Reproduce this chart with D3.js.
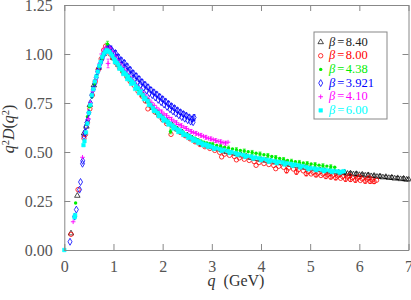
<!DOCTYPE html>
<html><head><meta charset="utf-8">
<script src="https://cdn.jsdelivr.net/npm/d3@7"></script>
<style>body{margin:0;background:#fff}svg{display:block}</style>
</head><body>
<svg id="c" width="411" height="300"></svg>
<script>
const xTicks=[0,1,2,3,4,5,6,7];
const yTicks=[0,0.25,0.5,0.75,1.0,1.25];
const betaLabels=["8.40","8.00","4.38","3.921","4.10","6.00"];

const beta840=[[0.136,0.085],[0.265,0.277],[0.40,0.595],[0.45,0.63],[0.52,0.74],[0.60,0.84],[0.70,0.93],[0.80,1.0],[0.90,1.02],[1.0,0.98],[1.1,0.945],[1.2,0.915],[1.3,0.885],[1.4,0.855],[1.5,0.825],[1.6,0.79],[1.7,0.76],[1.8,0.725],[1.9,0.70],[2.0,0.675],[2.1,0.655],[2.2,0.635],[2.3,0.615],[2.4,0.60],[2.5,0.585],[2.6,0.57],[2.7,0.555],[2.8,0.54],[2.9,0.533],[3.0,0.525],[3.1,0.517],[3.2,0.51],[3.3,0.50],[3.4,0.496],[3.5,0.49],[3.6,0.483],[3.7,0.477],[3.8,0.47],[3.9,0.465],[4.0,0.46],[4.1,0.456],[4.2,0.452],[4.3,0.447],[4.4,0.443],[4.5,0.44],[4.6,0.435],[4.7,0.43],[4.8,0.425],[4.9,0.42],[5.0,0.416],[5.1,0.412],[5.2,0.408],[5.3,0.404],[5.4,0.40],[5.5,0.397],[5.58,0.395,0.008],[5.64,0.392],[5.70,0.396,0.01],[5.76,0.389],[5.82,0.391,0.008],[5.88,0.386],[5.94,0.388,0.01],[6.0,0.383],[6.06,0.385,0.008],[6.12,0.380],[6.18,0.382,0.01],[6.24,0.377],[6.30,0.379,0.008],[6.36,0.374],[6.42,0.376,0.01],[6.48,0.371],[6.54,0.373,0.008],[6.60,0.368],[6.66,0.370,0.01],[6.72,0.365],[6.78,0.367,0.008],[6.84,0.362],[6.90,0.364,0.01],[6.96,0.359],[7.0,0.361,0.008]];

const beta800=[[0.136,0.08],[0.28,0.308],[0.40,0.57],[0.43,0.59],[0.47,0.65],[0.52,0.72],[0.57,0.79],[0.63,0.86],[0.69,0.92],[0.75,0.975],[0.80,1.02],[0.84,1.04],[0.88,1.03],[0.93,1.0],[0.98,0.98],[1.05,0.955],[1.12,0.93],[1.20,0.905],[1.27,0.885],[1.34,0.86],[1.42,0.84],[1.50,0.81],[1.58,0.785],[1.65,0.76],[1.70,0.72],[1.76,0.735],[1.84,0.705],[1.92,0.685],[2.00,0.665],[2.08,0.645],[2.17,0.59],[2.26,0.62],[2.36,0.60],[2.46,0.583],[2.56,0.567],[2.66,0.552],[2.76,0.538],[2.86,0.527],[2.96,0.518],[3.06,0.508],[3.16,0.498],[3.2,0.475],[3.26,0.489],[3.36,0.483],[3.46,0.477],[3.5,0.46],[3.56,0.47],[3.66,0.463],[3.76,0.457],[3.86,0.451],[3.9,0.432],[3.96,0.446],[4.06,0.441],[4.16,0.436],[4.26,0.431],[4.3,0.415],[4.36,0.427],[4.46,0.422],[4.52,0.405,0.012],[4.56,0.418],[4.66,0.413],[4.72,0.398,0.012],[4.76,0.409],[4.86,0.404],[4.92,0.39,0.012],[4.96,0.40],[5.06,0.396],[5.12,0.383,0.01],[5.16,0.392],[5.26,0.388],[5.32,0.376,0.012],[5.36,0.385],[5.46,0.381],[5.52,0.369,0.012],[5.56,0.378],[5.66,0.375],[5.72,0.362,0.012],[5.76,0.372],[5.86,0.369],[5.92,0.357,0.012],[5.96,0.366],[6.06,0.363],[6.12,0.352,0.012],[6.16,0.361],[6.26,0.358],[6.30,0.349,0.01],[6.35,0.356],
[5.02,0.388],[5.22,0.38],[5.42,0.372,0.01],[5.62,0.366],[5.82,0.36,0.01],[6.02,0.355],[6.22,0.35,0.01],[5.40,0.392],[5.60,0.386],[5.80,0.38],[6.00,0.374],[6.20,0.368]];

const beta438=[[0.23,0.24],[0.45,0.64],[0.47,0.68],[0.51,0.73],[0.56,0.78],[0.61,0.845],[0.66,0.89],[0.71,0.935],[0.76,0.975],[0.81,1.0],[0.86,1.035,0.02],[0.88,1.05,0.015],[0.93,1.02],[0.97,1.0],[1.02,0.975],[1.07,0.955],[1.12,0.935],[1.17,0.915],[1.22,0.90],[1.28,0.885],[1.34,0.865],[1.40,0.85],[1.46,0.83],[1.52,0.815],[1.58,0.79],[1.64,0.775],[1.70,0.755],[1.76,0.735],[1.82,0.72],[1.88,0.70],[1.94,0.69],[2.00,0.675],[2.06,0.665],[2.12,0.65],[2.16,0.605,0.012],[2.24,0.63],[2.30,0.62],[2.36,0.61],[2.42,0.60],[2.48,0.59],[2.54,0.585],[2.60,0.575],[2.66,0.57],[2.72,0.563],[2.78,0.556],[2.84,0.55],[2.90,0.546],[2.96,0.542],[3.02,0.538,0.01],[3.10,0.533],[3.18,0.529,0.01],[3.26,0.524],[3.34,0.52,0.01],[3.42,0.516],[3.50,0.512,0.01],[3.58,0.508],[3.66,0.505,0.01],[3.74,0.501],[3.82,0.498,0.01],[3.90,0.494],[3.98,0.49,0.01],[4.06,0.486],[4.14,0.482,0.01],[4.22,0.477],[4.30,0.472,0.01],[4.38,0.467],[4.46,0.462,0.01],[4.54,0.457],[4.62,0.453,0.01],[4.70,0.45],[4.78,0.447,0.01],[4.86,0.444],[4.94,0.441,0.01],[5.02,0.439],[5.10,0.436,0.01],[5.18,0.433],[5.26,0.43,0.01],[5.34,0.428],[5.42,0.425,0.01],[5.50,0.422]];

const beta3921=[[0.116,0.042],[0.21,0.17],[0.245,0.206],[0.31,0.308],[0.33,0.347],[0.37,0.44],[0.375,0.455],[0.40,0.58],[0.42,0.60],[0.44,0.63],[0.46,0.65],[0.48,0.665],[0.50,0.70],[0.53,0.75],[0.56,0.79],[0.59,0.82],[0.62,0.85],[0.65,0.88],[0.68,0.91],[0.71,0.93],[0.74,0.955],[0.77,0.975],[0.80,0.995],[0.83,1.01],[0.86,1.02],[0.89,1.025,0.015],[0.92,1.03],[0.95,1.025,0.015],[0.98,1.015],[1.01,1.0],[1.04,1.005,0.012],[1.07,0.98],[1.10,0.985,0.012],[1.13,0.958],[1.16,0.968,0.012],[1.19,0.943],[1.22,0.955,0.012],[1.25,0.925],[1.28,0.937,0.012],[1.31,0.907],[1.34,0.92,0.012],[1.37,0.892],[1.40,0.902,0.012],[1.43,0.873],[1.46,0.888,0.012],[1.49,0.858],[1.52,0.873,0.012],[1.55,0.843],[1.58,0.857,0.012],[1.61,0.829],[1.64,0.844,0.012],[1.67,0.814],[1.70,0.831,0.012],[1.73,0.80],[1.76,0.817,0.012],[1.79,0.79],[1.82,0.805,0.012],[1.85,0.778],[1.88,0.794,0.012],[1.91,0.766],[1.94,0.782,0.012],[1.97,0.754],[2.00,0.77,0.012],[2.03,0.742],[2.06,0.758,0.012],[2.09,0.73],[2.12,0.746,0.012],[2.15,0.718],[2.18,0.734,0.012],[2.21,0.707],[2.24,0.724,0.012],[2.27,0.697],[2.30,0.713,0.012],[2.33,0.687],[2.36,0.703,0.012],[2.39,0.678],[2.42,0.694,0.012],[2.45,0.67],[2.48,0.686,0.012],[2.51,0.662],[2.54,0.677,0.012],[2.57,0.655],[2.60,0.668,0.012],[2.62,0.652],[2.64,0.676,0.014]];

const beta410=[[0.18,0.144],[0.37,0.473],[0.43,0.60],[0.49,0.67],[0.53,0.75],[0.58,0.81],[0.63,0.865],[0.68,0.91],[0.72,0.95],[0.76,1.0],[0.80,1.02],[0.84,1.035],[0.89,0.952,0.022],[0.93,1.03],[0.98,1.01],[1.03,0.99],[1.08,0.97],[1.13,0.952],[1.18,0.935],[1.23,0.918],[1.28,0.90],[1.33,0.884],[1.38,0.868],[1.43,0.852],[1.48,0.838],[1.53,0.823],[1.58,0.808],[1.63,0.793],[1.68,0.779],[1.73,0.765],[1.78,0.751],[1.83,0.738],[1.88,0.725],[1.93,0.714],[1.98,0.704,0.01],[2.03,0.694],[2.08,0.685,0.01],[2.13,0.676],[2.18,0.667,0.01],[2.23,0.658],[2.28,0.649,0.01],[2.33,0.64],[2.38,0.634,0.01],[2.43,0.627],[2.48,0.62,0.01],[2.53,0.612],[2.58,0.605,0.01],[2.63,0.60],[2.68,0.595,0.01],[2.73,0.59],[2.78,0.585,0.01],[2.83,0.58],[2.88,0.575,0.01],[2.93,0.57],[2.98,0.567,0.01],[3.03,0.563],[3.08,0.558,0.01],[3.13,0.555],[3.18,0.552,0.01],[3.23,0.548],[3.28,0.545,0.01],[3.33,0.55]];

const beta600=[[0,0],[0.21,0.167],[0.22,0.178],[0.39,0.535],[0.41,0.555],[0.44,0.60],[0.47,0.645],[0.50,0.70],[0.53,0.74],[0.56,0.79],[0.59,0.82],[0.62,0.86],[0.65,0.885],[0.68,0.91],[0.71,0.94],[0.74,0.96],[0.77,0.985],[0.80,1.0],[0.83,1.01],[0.86,1.02],[0.89,1.015],[0.92,1.01],[0.95,1.0],[0.98,0.99],[1.01,0.975],[1.04,0.965],[1.07,0.955],[1.10,0.945],[1.14,0.93],[1.18,0.92],[1.22,0.905],[1.26,0.895],[1.30,0.885],[1.34,0.87],[1.38,0.86],[1.42,0.85],[1.46,0.835],[1.50,0.825],[1.55,0.81],[1.60,0.79],[1.65,0.775],[1.70,0.76],[1.75,0.74],[1.80,0.725],[1.85,0.71],[1.90,0.70],[1.95,0.685],[2.00,0.675],[2.05,0.665],[2.10,0.655],[2.15,0.645],[2.20,0.635],[2.25,0.625],[2.30,0.615],[2.35,0.61],[2.40,0.60],[2.45,0.59],[2.50,0.585],[2.55,0.578],[2.60,0.57],[2.65,0.565],[2.70,0.558],[2.75,0.552],[2.80,0.545],[2.85,0.54],[2.90,0.537],[2.95,0.532],[3.00,0.527],[3.08,0.52],[3.16,0.515],[3.24,0.51],[3.32,0.505],[3.40,0.50],[3.48,0.495],[3.56,0.49],[3.64,0.485],[3.72,0.48],[3.80,0.477],[3.88,0.472],[3.96,0.468],[4.04,0.465],[4.12,0.46],[4.20,0.457],[4.28,0.453],[4.36,0.45],[4.44,0.447],[4.52,0.443],[4.60,0.44],[4.68,0.436],[4.76,0.432],[4.84,0.428],[4.92,0.423],[5.00,0.418],[5.08,0.416],[5.16,0.413],[5.24,0.41],[5.32,0.408],[5.40,0.405],[5.48,0.403],[5.56,0.401],[5.64,0.399],[5.68,0.402],
[1.03,0.958],[1.12,0.925],[1.20,0.898],[1.28,0.872],[1.36,0.848],[1.44,0.822],[1.52,0.80],[1.62,0.77],[1.72,0.74],[1.82,0.71],[1.92,0.683],[2.02,0.66],[2.12,0.64],[2.22,0.62],[2.32,0.602],[2.42,0.587],[2.52,0.572],[2.62,0.558],[2.72,0.546],[2.82,0.535],[2.92,0.526],[3.04,0.516],[3.20,0.505],[3.36,0.495],[3.52,0.485],[3.68,0.475],[3.84,0.466],[4.00,0.458],[4.16,0.45],[4.32,0.443],[4.48,0.436],[4.64,0.429],[4.80,0.421],[4.96,0.412],[5.12,0.407],[5.28,0.402],[5.44,0.398],[5.60,0.394]];

const seriesData=[beta840,beta800,beta438,beta3921,beta410,beta600];
const colors=["#000000","#ff0000","#00ee00","#0000ff","#ff00ff","#00ffff"];
const shapes=["triangle","circle","dot","diamond","plus","square"];

const svg=d3.select("#c");
const x=d3.scaleLinear().domain([0,7]).range([64.3,408.5]);
const y=d3.scaleLinear().domain([0,1.25]).range([250,5]);
const axisColor="#888";
const font='"Liberation Serif"';

function drawMarker(g,shape,color,cx,cy){
  if(shape==="circle"){
    g.append("circle").attr("cx",cx).attr("cy",cy).attr("r",2.2).attr("fill","none").attr("stroke",color).attr("stroke-width",0.8);
  } else if(shape==="dot"){
    g.append("circle").attr("cx",cx).attr("cy",cy).attr("r",1.7).attr("fill",color);
  } else if(shape==="plus"){
    g.append("path").attr("d",`M${cx-2.3},${cy}H${cx+2.3}M${cx},${cy-2.3}V${cy+2.3}`).attr("stroke",color).attr("stroke-width",0.9);
  } else if(shape==="triangle"){
    g.append("path").attr("d",d3.symbol(d3.symbolTriangle,13)()).attr("transform",`translate(${cx},${cy})`).attr("fill","none").attr("stroke",color).attr("stroke-width",0.7);
  } else if(shape==="diamond"){
    g.append("path").attr("d",d3.symbol(d3.symbolDiamond,14)()).attr("transform",`translate(${cx},${cy})`).attr("fill","none").attr("stroke",color).attr("stroke-width",0.8);
  } else if(shape==="square"){
    g.append("path").attr("d",d3.symbol(d3.symbolSquare,13)()).attr("transform",`translate(${cx},${cy})`).attr("fill",color).attr("stroke",color).attr("stroke-width",0.5);
  }
}

const plot=svg.append("g");
seriesData.forEach((data,i)=>{
  const g=plot.append("g");
  data.forEach(d=>{
    const cx=x(d[0]),cy=y(d[1]);
    if(d.length>2){
      const y1=y(d[1]-d[2]),y2=y(d[1]+d[2]);
      g.append("path").attr("d",`M${cx},${y1}V${y2}M${cx-1.5},${y1}H${cx+1.5}M${cx-1.5},${y2}H${cx+1.5}`).attr("stroke",colors[i]).attr("stroke-width",0.7).attr("fill","none");
    }
    drawMarker(g,shapes[i],colors[i],cx,cy);
  });
});

function styleAxis(g){
  g.attr("font-family",font).attr("font-size",16);
  g.selectAll("path,line").attr("stroke",axisColor).attr("stroke-width",1);
  g.selectAll("text").attr("fill","#555").style("font-family",font).style("font-size","16px");
}
svg.append("g").attr("transform","translate(0,250)")
  .call(d3.axisBottom(x).tickValues(xTicks).tickFormat(d3.format("d")).tickSizeInner(-6).tickSizeOuter(0).tickPadding(10.5))
  .call(styleAxis);
svg.append("g").attr("transform","translate(0,5)")
  .call(d3.axisTop(x).tickValues(xTicks).tickFormat("").tickSizeInner(-6).tickSizeOuter(0))
  .call(styleAxis);
svg.append("g").attr("transform","translate(64.3,0)")
  .call(d3.axisLeft(y).tickValues(yTicks).tickFormat(d3.format(".2f")).tickSizeInner(-6).tickSizeOuter(0).tickPadding(11.5))
  .call(styleAxis);
svg.append("g").attr("transform","translate(408.5,0)")
  .call(d3.axisRight(y).tickValues(yTicks).tickFormat("").tickSizeInner(-6).tickSizeOuter(0))
  .call(styleAxis);

const xt=svg.append("text").attr("x",236).attr("y",286).attr("text-anchor","middle")
  .style("font-family",font).style("font-size","16px").attr("fill","#333").style("white-space","pre");
xt.append("tspan").style("font-style","italic").text("q");
xt.append("tspan").text("  (GeV)");

const yt=svg.append("text").attr("transform","translate(14,129) rotate(-90)").attr("text-anchor","middle")
  .style("font-family",font).style("font-size","16px").attr("fill","#333");
yt.append("tspan").style("font-style","italic").text("q");
yt.append("tspan").style("font-size","10.5px").attr("dy",-5).text("2");
yt.append("tspan").style("font-style","italic").attr("dy",5).text("D");
yt.append("tspan").text("(");
yt.append("tspan").style("font-style","italic").text("q");
yt.append("tspan").style("font-size","10.5px").attr("dy",-5).text("2");
yt.append("tspan").attr("dy",5).text(")");

const lg=svg.append("g");
lg.append("rect").attr("x",314).attr("y",32).attr("width",73).attr("height",87).attr("fill","#fff").attr("stroke",axisColor).attr("stroke-width",1);
betaLabels.forEach((lab,i)=>{
  const by=45.7+i*13.66;
  drawMarker(lg,shapes[i],colors[i],320.7,by-3.6);
  const t=lg.append("text").attr("x",329).attr("y",by).style("font-family",font).style("font-size","12.5px").attr("fill",i===0?"#222":colors[i]);
  t.append("tspan").style("font-style","italic").text("β");
  t.append("tspan").attr("dx",2).text("=");
  t.append("tspan").attr("dx",1.5).text(lab);
});
</script>
</body></html>
